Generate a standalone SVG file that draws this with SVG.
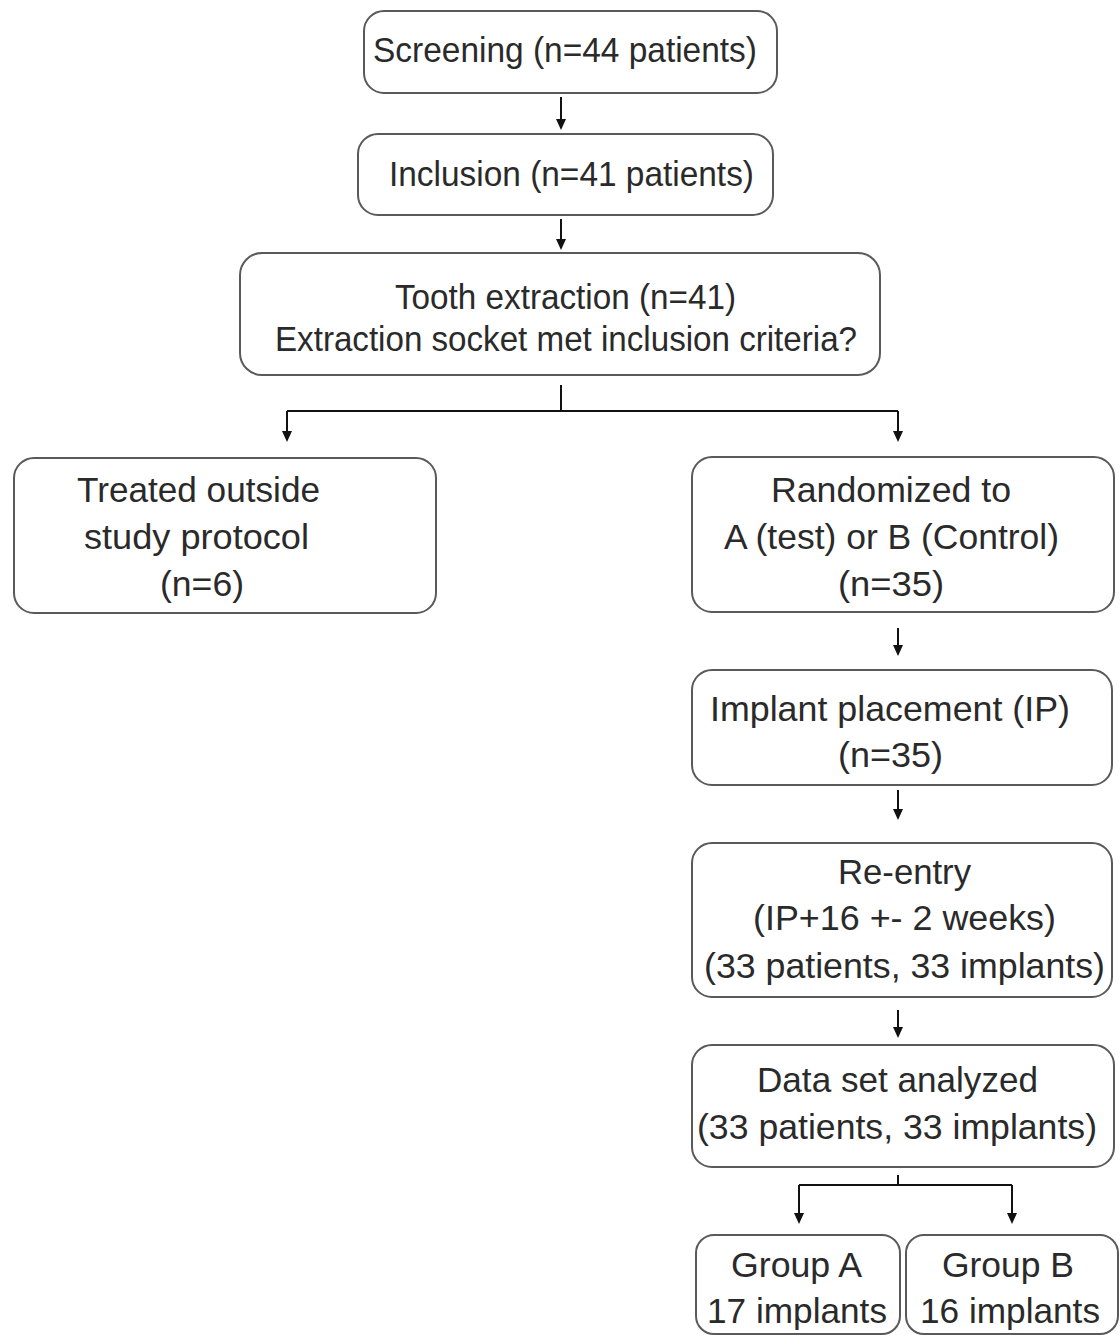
<svg xmlns="http://www.w3.org/2000/svg" width="1120" height="1335" viewBox="0 0 1120 1335">
<style>
.box{fill:#fff;stroke:#5a5a5a;stroke-width:2}
text{font-family:"Liberation Sans",Arial,sans-serif;font-size:35px;fill:#2a2a2a;text-anchor:middle}
.c{fill:none;stroke:#111;stroke-width:2}
.h{fill:#111}
</style>
<rect width="1120" height="1335" fill="#fff"/>
<g id="connectors">
<path class="c" d="M561,97 V119"/><path class="h" d="M556,119 L566,119 L561,130 Z"/>
<path class="c" d="M561,219 V239"/><path class="h" d="M556,239 L566,239 L561,250 Z"/>
<path class="c" d="M561,385 V411 M287,411 H898 M287,411 V431 M898,411 V431"/>
<path class="h" d="M282,431 L292,431 L287,442 Z M893,431 L903,431 L898,442 Z"/>
<path class="c" d="M898,628 V645"/><path class="h" d="M893,645 L903,645 L898,656 Z"/>
<path class="c" d="M898,790 V809"/><path class="h" d="M893,809 L903,809 L898,820 Z"/>
<path class="c" d="M898,1010 V1027"/><path class="h" d="M893,1027 L903,1027 L898,1038 Z"/>
<path class="c" d="M898,1175 V1185 M799,1185 H1012 M799,1185 V1213 M1012,1185 V1213"/>
<path class="h" d="M794,1213 L804,1213 L799,1224 Z M1007,1213 L1017,1213 L1012,1224 Z"/>
</g>
<g id="screening">
<rect class="box" x="364" y="11" width="413" height="82" rx="20"/>
<text x="565" y="62" textLength="384" lengthAdjust="spacingAndGlyphs">Screening (n=44 patients)</text>
</g>
<g id="inclusion">
<rect class="box" x="358" y="134" width="415" height="81" rx="20"/>
<text x="571.5" y="186" textLength="365" lengthAdjust="spacingAndGlyphs">Inclusion (n=41 patients)</text>
</g>
<g id="extraction">
<rect class="box" x="240" y="253" width="640" height="122" rx="22"/>
<text x="565.5" y="309" textLength="341" lengthAdjust="spacingAndGlyphs">Tooth extraction (n=41)</text>
<text x="566" y="351" textLength="582" lengthAdjust="spacingAndGlyphs">Extraction socket met inclusion criteria?</text>
</g>
<g id="treated">
<rect class="box" x="14" y="458" width="422" height="155" rx="20"/>
<text x="198.5" y="502" textLength="243" lengthAdjust="spacingAndGlyphs">Treated outside</text>
<text x="196.5" y="549" textLength="225" lengthAdjust="spacingAndGlyphs">study protocol</text>
<text x="202" y="596" textLength="84" lengthAdjust="spacingAndGlyphs">(n=6)</text>
</g>
<g id="randomized">
<rect class="box" x="692" y="457" width="422" height="155" rx="20"/>
<text x="891" y="502" textLength="240" lengthAdjust="spacingAndGlyphs">Randomized to</text>
<text x="891.5" y="549" textLength="335" lengthAdjust="spacingAndGlyphs">A (test) or B (Control)</text>
<text x="891" y="596" textLength="106" lengthAdjust="spacingAndGlyphs">(n=35)</text>
</g>
<g id="implant">
<rect class="box" x="692" y="670" width="420" height="115" rx="20"/>
<text x="890" y="721" textLength="360" lengthAdjust="spacingAndGlyphs">Implant placement (IP)</text>
<text x="890.5" y="767" textLength="105" lengthAdjust="spacingAndGlyphs">(n=35)</text>
</g>
<g id="reentry">
<rect class="box" x="692" y="843" width="420" height="154" rx="20"/>
<text x="904.5" y="884" textLength="133" lengthAdjust="spacingAndGlyphs">Re-entry</text>
<text x="904.5" y="930" textLength="303" lengthAdjust="spacingAndGlyphs">(IP+16 +- 2 weeks)</text>
<text x="904.5" y="978" textLength="401" lengthAdjust="spacingAndGlyphs">(33 patients, 33 implants)</text>
</g>
<g id="dataset">
<rect class="box" x="692" y="1045" width="422" height="122" rx="20"/>
<text x="897.5" y="1092" textLength="281" lengthAdjust="spacingAndGlyphs">Data set analyzed</text>
<text x="897" y="1139" textLength="400" lengthAdjust="spacingAndGlyphs">(33 patients, 33 implants)</text>
</g>
<g id="groupA">
<rect class="box" x="696" y="1235" width="204" height="99" rx="18"/>
<text x="796.5" y="1277" textLength="131" lengthAdjust="spacingAndGlyphs">Group A</text>
<text x="797" y="1323" textLength="180" lengthAdjust="spacingAndGlyphs">17 implants</text>
</g>
<g id="groupB">
<rect class="box" x="906" y="1235" width="212" height="99" rx="18"/>
<text x="1008" y="1277" textLength="132" lengthAdjust="spacingAndGlyphs">Group B</text>
<text x="1010" y="1323" textLength="180" lengthAdjust="spacingAndGlyphs">16 implants</text>
</g>
</svg>
